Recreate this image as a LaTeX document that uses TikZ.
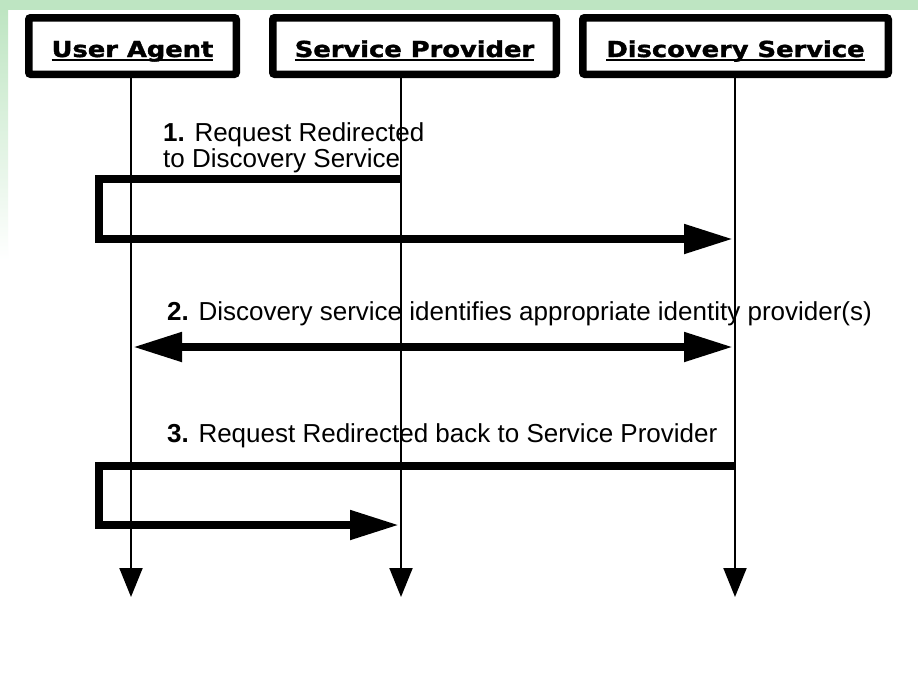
\documentclass[tikz,border=0pt]{standalone}
\usepackage{fontspec}
\usepackage{graphicx}
\setmainfont{Liberation Sans}
\newfontfamily\headfont{DejaVu Sans}[BoldFeatures={FakeBold=1.5}]
\usetikzlibrary{arrows.meta}

\definecolor{slidegreen}{RGB}{190,229,194}

% underlined, slightly widened box title
\newcommand{\headline}[1]{\scalebox{1.17}[1]{\setbox0\hbox{#1}\rlap{\rule[-3.5pt]{\wd0}{1.8pt}}\box0}}

\begin{document}
\begin{tikzpicture}[x=1pt,y=1pt,yscale=-1,
	actor/.style={draw,line width=7.5pt,rounded corners=2pt,minimum height=56.5pt,inner sep=0pt,
		text height=22pt,text depth=0pt,font=\headfont\bfseries\fontsize{22}{24}\selectfont},
	life/.style={line width=2pt,-{Triangle[length=29pt,width=23pt]}},
	msg/.style={line width=8pt,shorten >=2pt,-{Triangle[length=49pt,width=28pt]}},
	note/.style={inner sep=0pt,font=\fontsize{26}{26}\selectfont}]
	\path[use as bounding box] (0,0) rectangle (918,696);
	
	%Background: slide edge
	\fill[white] (0,0) rectangle (918,696);
	\fill[slidegreen] (0,0) rectangle (918,10);
	\shade[top color=slidegreen,bottom color=white] (0,10) rectangle (8,260);
	
	%Shape: actor boxes
	\node[actor,minimum width=207.5pt] (ua) at (132.5,46) {\headline{User Agent}};
	\node[actor,minimum width=283.5pt] (sp) at (414.5,46) {\headline{Service Provider}};
	\node[actor,minimum width=305.5pt] (ds) at (735.5,46) {\headline{Discovery Service}};
	
	%Straight Lines: lifelines
	\coordinate (ua end) at (131,597);
	\coordinate (sp end) at (401,597);
	\coordinate (ds end) at (735,597);
	\draw[life] (ua.south -| ua end) -- (ua end);
	\draw[life] (sp.south -| sp end) -- (sp end);
	\draw[life] (ds.south -| ds end) -- (ds end);
	
	% Text Node
	\node[note,anchor=north west,align=left] (m1) at (163,122) {\textbf{1.} Request Redirected\\to Discovery Service};
	%Straight Lines: message 1
	\draw[msg] (sp end |- 0,179) -| (99,239) -- (ds end |- 0,239);
	
	% Text Node
	\node[note,anchor=base west] (m2) at (167,320) {\textbf{2.} Discovery service identifies appropriate identity provider(s)};
	%Straight Lines: message 2
	\draw[msg,shorten <=2pt,{Triangle[length=49pt,width=28pt]}-{Triangle[length=49pt,width=28pt]}] (ua end |- 0,347) -- (ds end |- 0,347);
	
	% Text Node
	\node[note,anchor=base west] (m3) at (167,442) {\textbf{3.} Request Redirected back to Service Provider};
	%Straight Lines: message 3
	\draw[msg] (ds end |- 0,466) -| (99,525) -- (sp end |- 0,525);
	
\end{tikzpicture}
\end{document}
